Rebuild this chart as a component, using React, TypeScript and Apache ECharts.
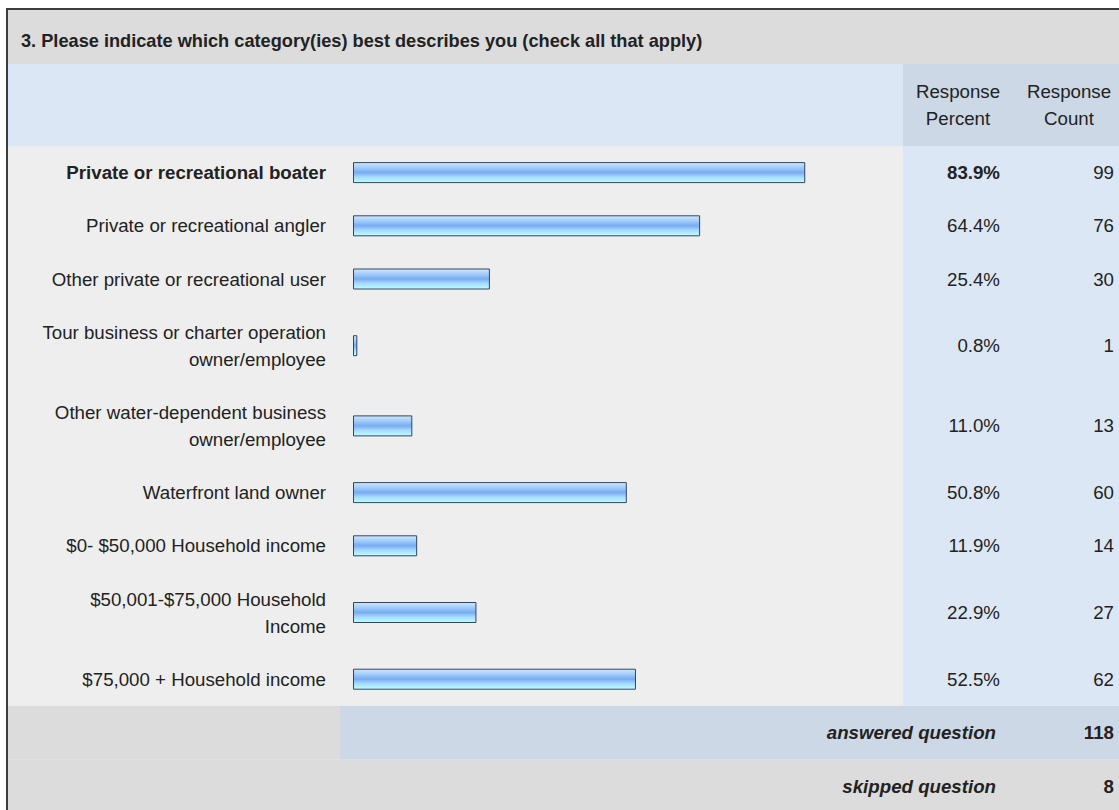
import React, { useEffect, useRef } from "react";
import * as echarts from "echarts";

// ---------- data ----------
const TITLE =
  "3. Please indicate which category(ies) best describes you (check all that apply)";
const CATEGORIES = [
  "Private or recreational boater",
  "Private or recreational angler",
  "Other private or recreational user",
  "Tour business or charter operation\nowner/employee",
  "Other water-dependent business\nowner/employee",
  "Waterfront land owner",
  "$0- $50,000 Household income",
  "$50,001-$75,000 Household\nIncome",
  "$75,000 + Household income",
];
const PERCENTS = [83.9, 64.4, 25.4, 0.8, 11.0, 50.8, 11.9, 22.9, 52.5];
const COUNTS = [99, 76, 30, 1, 13, 60, 14, 27, 62];
const COLUMN_HEADERS = ["Response\nPercent", "Response\nCount"];
const ANSWERED_LABEL = "answered question";
const SKIPPED_LABEL = "skipped question";
const ANSWERED = 118;
const SKIPPED = 8;

// ---------- layout ----------
const W = 1119;
const H = 810;
const FONT = "'Liberation Sans', Arial, Helvetica, sans-serif";
const FS = 18.7;
const TITLE_FS = 18.2;
const LINE_H = 27;
const ROW_PAD = 26.2;
const ROWS_TOP = 146;
const BAR_LEFT = 353;
const BAR_RIGHT = 892;
const COL_SPLIT = 903;
const TXT = "#222222";

export default function App() {
  const ref = useRef<HTMLDivElement>(null);

  useEffect(() => {
    if (!ref.current) return;
    const chart = echarts.init(ref.current, undefined, { renderer: "svg" });

    const grids: any[] = [];
    const xAxes: any[] = [];
    const yAxes: any[] = [];
    const series: any[] = [];

    let top = ROWS_TOP;
    CATEGORIES.forEach((cat, i) => {
      const lines = cat.split("\n").length;
      const h = ROW_PAD + LINE_H * lines;
      const bold = i === 0 ? "bold" : "normal";
      grids.push({ left: BAR_LEFT, width: BAR_RIGHT - BAR_LEFT, top, height: h });
      xAxes.push({
        type: "value",
        gridIndex: i,
        min: 0,
        max: 100,
        show: false,
      });
      const baseLabel = {
        fontSize: FS,
        fontFamily: FONT,
        color: TXT,
        lineHeight: LINE_H,
      };
      yAxes.push({
        type: "category",
        gridIndex: i,
        data: [cat],
        axisLine: { show: false },
        axisTick: { show: false },
        splitLine: { show: false },
        axisLabel: { ...baseLabel, margin: 27, fontWeight: bold, align: "right" },
      });
      yAxes.push({
        type: "category",
        gridIndex: i,
        position: "right",
        data: [PERCENTS[i].toFixed(1) + "%"],
        axisLine: { show: false },
        axisTick: { show: false },
        splitLine: { show: false },
        axisLabel: { ...baseLabel, margin: 108, fontWeight: bold, align: "right" },
      });
      yAxes.push({
        type: "category",
        gridIndex: i,
        position: "right",
        data: [String(COUNTS[i])],
        axisLine: { show: false },
        axisTick: { show: false },
        splitLine: { show: false },
        axisLabel: { ...baseLabel, margin: 222, align: "right" },
      });
      series.push({
        type: "bar",
        xAxisIndex: i,
        yAxisIndex: i * 3,
        data: [PERCENTS[i]],
        barWidth: 21,
        silent: true,
        itemStyle: {
          borderColor: "#34465f",
          borderWidth: 1,
          color: new echarts.graphic.LinearGradient(0, 0, 0, 1, [
            { offset: 0, color: "#cfe6ff" },
            { offset: 0.25, color: "#a2cdfb" },
            { offset: 0.5, color: "#78acf1" },
            { offset: 0.72, color: "#a8daff" },
            { offset: 1, color: "#b9ffff" },
          ]),
        },
      });
      top += h;
    });
    const rowsBottom = top;

    const rect = (x: number, y: number, w: number, h: number, fill: string) => ({
      type: "rect",
      silent: true,
      z: -10,
      shape: { x, y, width: w, height: h },
      style: { fill },
    });
    const text = (
      x: number,
      y: number,
      t: string,
      align: string,
      weight = "normal",
      style = "normal",
      size = FS
    ) => ({
      type: "text",
      silent: true,
      z: 10,
      x,
      y,
      style: {
        text: t,
        fill: TXT,
        font: `${style} ${weight} ${size}px ${FONT}`,
        textAlign: align,
        textVerticalAlign: "middle",
        lineHeight: LINE_H,
      },
    });

    const graphic = [
      rect(8, 10, W - 8, 54, "#dcdcdc"),
      rect(8, 64, COL_SPLIT - 8, ROWS_TOP - 64, "#dce7f5"),
      rect(COL_SPLIT, 64, W - COL_SPLIT, ROWS_TOP - 64, "#ccd8e6"),
      rect(8, ROWS_TOP, COL_SPLIT - 8, rowsBottom - ROWS_TOP, "#eeeeee"),
      rect(COL_SPLIT, ROWS_TOP, W - COL_SPLIT, rowsBottom - ROWS_TOP, "#dce7f5"),
      rect(8, rowsBottom, 332, 54, "#dcdcdc"),
      rect(340, rowsBottom, W - 340, 54, "#cdd8e6"),
      rect(8, rowsBottom + 54, W - 8, H - rowsBottom - 54, "#dcdcdc"),
      {
        type: "polyline",
        silent: true,
        z: 5,
        shape: { points: [[7, H], [7, 9], [W, 9]] },
        style: { stroke: "#3c3c3c", lineWidth: 2, fill: "none" },
      },
      text(21, 41, TITLE, "left", "bold", "normal", TITLE_FS),
      text(958, 105, COLUMN_HEADERS[0], "center"),
      text(1069, 105, COLUMN_HEADERS[1], "center"),
      text(996, rowsBottom + 27, ANSWERED_LABEL, "right", "bold", "italic"),
      text(1114, rowsBottom + 27, String(ANSWERED), "right", "bold"),
      text(996, rowsBottom + 81, SKIPPED_LABEL, "right", "bold", "italic"),
      text(1114, rowsBottom + 81, String(SKIPPED), "right", "bold"),
    ];

    chart.setOption({
      animation: false,
      backgroundColor: "#ffffff",
      grid: grids,
      xAxis: xAxes,
      yAxis: yAxes,
      series,
      graphic,
    });

    return () => chart.dispose();
  }, []);

  return (
    <div
      ref={ref}
      style={{ position: "absolute", left: 0, top: 0, width: W, height: H }}
    />
  );
}
